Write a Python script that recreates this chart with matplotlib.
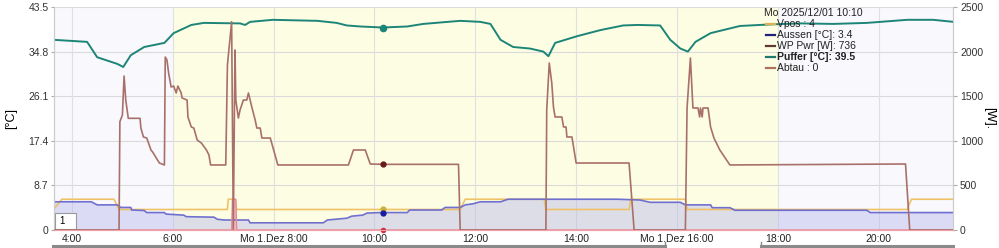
import matplotlib
matplotlib.use('Agg')
import matplotlib.pyplot as plt
from matplotlib.lines import Line2D
from matplotlib.patches import Rectangle

plt.rcParams['font.family'] = ['Liberation Sans', 'DejaVu Sans']


def hrs(ts):
    out = []
    for t in ts:
        h, m = t.split(':')
        out.append(int(h) + int(m) / 60.0)
    return out


# Puffer [°C] (left axis)
puffer_t = ['3:38', '4:18', '4:30', '4:54', '5:01', '5:10', '5:26', '5:50', '6:01', '6:22',
            '6:37', '7:20', '7:26', '7:32', '7:59', '8:52', '9:15', '9:27', '9:43', '10:10',
            '10:39', '10:58', '11:42', '12:06', '12:18', '12:30', '12:45', '13:05', '13:21', '13:27',
            '13:35', '13:49', '14:01', '14:29', '14:56', '15:13', '15:40', '15:52', '16:04', '16:13',
            '16:22', '16:40', '17:15', '17:51', '18:27', '19:06', '19:46', '20:02', '20:34', '21:05',
            '21:29']
puffer_v = [37.1, 36.7, 33.7, 32.4, 31.8, 34.1, 35.7, 36.5, 38.4, 40.0,
            40.4, 40.3, 40.0, 40.6, 41.0, 40.8, 40.4, 39.9, 39.7, 39.5,
            39.7, 40.2, 40.8, 40.6, 40.2, 37.1, 35.7, 35.4, 34.8, 33.9,
            36.5, 37.2, 37.8, 39.0, 39.9, 40.0, 39.9, 37.1, 35.4, 34.8,
            36.7, 38.4, 39.8, 40.1, 40.3, 40.2, 40.4, 40.6, 41.0, 41.0,
            40.6]

# WP Pwr [W] (right axis)
wp_t = ['3:38', '4:56', '4:57', '5:00', '5:02', '5:04', '5:07', '5:21', '5:22', '5:25',
        '5:29', '5:34', '5:36', '5:44', '5:50', '5:51', '5:53', '5:55', '5:58', '6:01',
        '6:04', '6:06', '6:10', '6:11', '6:17', '6:18', '6:22', '6:25', '6:29', '6:34',
        '6:40', '6:43', '6:45', '7:03', '7:05', '7:10', '7:12', '7:14', '7:15', '7:18',
        '7:20', '7:24', '7:28', '7:30', '7:34', '7:38', '7:40', '7:44', '7:46', '7:56',
        '8:05', '9:29', '9:35', '9:49', '9:55', '10:10', '11:40', '11:42', '13:24', '13:25',
        '13:28', '13:31', '13:33', '13:35', '13:43', '13:45', '13:48', '13:49', '13:55', '14:00',
        '15:03', '15:09', '16:10', '16:12', '16:16', '16:19', '16:25', '16:27', '16:28', '16:30',
        '16:31', '16:37', '16:40', '16:44', '16:51', '17:03', '20:32', '20:37', '21:29']
wp_v = [0, 0, 1214, 1289, 1726, 1457, 1252, 1252, 1143, 1043,
        1031, 897, 874, 751, 729, 1939, 1906, 1760, 1603, 1614,
        1536, 1614, 1536, 1480, 1457, 1267, 1155, 1143, 1009, 975,
        897, 841, 729, 729, 1850, 2335, 0, 2018, 1457, 1255,
        1345, 1457, 1457, 1536, 1379, 1233, 1143, 1143, 1031, 1031,
        729, 729, 897, 897, 740, 736, 736, 0, 0, 1345,
        1872, 1648, 1379, 1267, 1267, 1155, 1155, 1043, 1043, 751,
        751, 0, 0, 1368, 1928, 1368, 1368, 1267, 1368, 1267,
        1368, 1368, 1155, 1031, 897, 729, 740, 0, 0]

# Vpos (left axis)
vpos_t = ['3:38', '3:48', '4:50', '4:56', '7:05', '7:06', '7:14', '7:16', '11:42', '11:48',
          '13:22', '13:24', '15:03', '15:05', '16:10', '16:12', '20:34', '20:39', '21:29']
vpos_v = [4, 6, 6, 4, 4, 6, 6, 4, 4, 6,
          6, 4, 4, 6, 6, 4, 4, 6, 6]

# Aussen [°C] (left axis)
aussen_t = ['3:38', '4:23', '4:30', '4:54', '4:58', '5:10', '5:11', '5:26', '5:29', '5:50',
            '5:52', '6:13', '6:16', '6:49', '6:53', '7:01', '7:30', '7:32', '8:59', '9:04',
            '9:27', '9:33', '9:46', '9:51', '10:07', '10:39', '10:42', '11:20', '11:24', '11:42',
            '11:48', '11:57', '12:06', '12:30', '12:39', '14:49', '15:16', '15:28', '16:04', '16:10',
            '16:40', '16:42', '17:03', '17:09', '19:46', '19:50', '21:29']
aussen_v = [5.5, 5.5, 4.9, 4.9, 4.4, 4.4, 3.9, 3.8, 3.4, 3.4,
            3.1, 2.9, 2.6, 2.5, 2.1, 1.95, 1.95, 1.4, 1.4, 1.95,
            2.3, 2.7, 2.9, 3.3, 3.4, 3.4, 3.9, 3.9, 4.4, 4.4,
            4.9, 5.1, 5.5, 5.5, 6.0, 6.0, 5.85, 5.4, 5.4, 4.9,
            4.9, 4.35, 4.35, 3.85, 3.85, 3.4, 3.4]

# Abtau
abtau_t = ['3:38', '7:10', '7:11', '7:15', '7:16', '21:29']
abtau_v = [0, 0, 6, 6, 0, 0]

cursor_t = '10:10'
cursor_vals = {'Vpos': 4, 'Aussen': 3.4, 'WP': 736, 'Puffer': 39.5, 'Abtau': 0}

xtick_h = [4, 6, 8, 10, 12, 14, 16, 18, 20]
xtick_labels = ['4:00', '6:00', 'Mo 1.Dez 8:00', '10:00', '12:00', '14:00',
                'Mo 1.Dez 16:00', '18:00', '20:00']
ytick_left = [0, 8.7, 17.4, 26.1, 34.8, 43.5]
ytick_left_labels = ['0', '8.7', '17.4', '26.1', '34.8', '43.5']
ytick_right = [0, 500, 1000, 1500, 2000, 2500]

c_puffer = '#1d8577'
c_wp = '#a8706a'
c_vpos = '#f0c266'
c_aussen = '#6f6fcf'
c_abtau = '#e88a96'

fig = plt.figure(figsize=(9.99, 2.48), dpi=100)
fig.patch.set_facecolor('#ffffff')
ax = fig.add_axes([54 / 999, 18 / 248, 899 / 999, 223 / 248])
ax.set_facecolor('#f8f8fd')
ax2 = ax.twinx()

x0, x1 = 3 + 38.6 / 60, 21 + 28.5 / 60
ax.set_xlim(x0, x1)
ax.set_ylim(0, 43.5)
ax2.set_ylim(0, 2500)

ax.axvspan(6, 18, color='#fdfde4', zorder=0, lw=0)
for y in ytick_left:
    ax.axhline(y, color='#dadada', lw=0.8, zorder=0.5)
for x in xtick_h:
    ax.axvline(x, color='#e0e0e0', lw=0.8, zorder=0.5)

at = hrs(aussen_t)
ax.fill_between(at, aussen_v, 0, color='#b8b8ee', alpha=0.45, lw=0, zorder=1)
ax.plot(hrs(vpos_t), vpos_v, color=c_vpos, lw=1.2, zorder=2)
ax.plot(at, aussen_v, color=c_aussen, lw=1.2, zorder=3)
ab = hrs(abtau_t)
ax.fill_between(ab, abtau_v, 0, color='#f6b8c0', lw=0, zorder=2)
ax.plot(ab, abtau_v, color=c_abtau, lw=1.0, zorder=3)
ax.plot(hrs(puffer_t), puffer_v, color=c_puffer, lw=1.4, zorder=4)
ax2.plot(hrs(wp_t), wp_v, color=c_wp, lw=1.2, zorder=4)

ct = hrs([cursor_t])[0]
ax.plot(ct, cursor_vals['Puffer'], 'o', color=c_puffer, ms=4.5, zorder=6)
ax.plot(ct, cursor_vals['Vpos'], 'o', color='#c8b040', ms=3.5, zorder=6)
ax.plot(ct, cursor_vals['Aussen'], 'o', color='#1a1aa0', ms=3.5, zorder=6)
ax.plot(ct, cursor_vals['Abtau'], 'o', color='#d03040', ms=3, zorder=6, clip_on=False)
ax2.plot(ct, cursor_vals['WP'], 'o', color='#6a1a1a', ms=3.5, zorder=6)

ax.set_xticks(xtick_h)
ax.set_xticklabels(xtick_labels, fontsize=7.5, color='#222222')
ax.set_yticks(ytick_left)
ax.set_yticklabels(ytick_left_labels, fontsize=7.5, color='#333333')
ax2.set_yticks(ytick_right)
ax2.set_yticklabels([str(v) for v in ytick_right], fontsize=7.5, color='#333333')
ax.tick_params(axis='x', length=0, pad=3)
ax.tick_params(axis='y', length=2, color='#aaaaaa', pad=2)
ax2.tick_params(axis='y', length=3, color='#aaaaaa', pad=2)
for a in (ax, ax2):
    a.spines['top'].set_visible(False)
    a.spines['left'].set_color('#cccccc')
    a.spines['right'].set_color('#cccccc')
    a.spines['bottom'].set_color('#f0a0a8')
ax.set_ylabel('[°C]', fontsize=9, labelpad=8)
ax2.set_ylabel('[W].', fontsize=9, rotation=270, labelpad=9)

# legend block at cursor
lx, ly = 0.7895, 0.975
ax.text(lx, ly, 'Mo 2025/12/01 10:10', transform=ax.transAxes, fontsize=7.5,
        va='center', ha='left', color='#222222', zorder=7)
rows = [('Vpos : 4', '#e0b050', 'normal'),
        ('Aussen [°C]: 3.4', '#202080', 'normal'),
        ('WP Pwr [W]: 736', '#603830', 'normal'),
        ('Puffer [°C]: 39.5', '#207870', 'bold'),
        ('Abtau : 0', '#b07060', 'normal')]
for i, (txt, col, wt) in enumerate(rows):
    yy = ly - (i + 1) * 0.05
    ax.plot([lx + 0.002, lx + 0.012], [yy, yy], transform=ax.transAxes, color=col,
            lw=1.6, zorder=7)
    ax.text(lx + 0.0145, yy, txt, transform=ax.transAxes, fontsize=7.5, va='center',
            ha='left', color='#222222', fontweight=wt, zorder=7)

# small input box
ax.add_patch(Rectangle((0.001, 0.005), 0.024, 0.072, transform=ax.transAxes,
                       facecolor='white', edgecolor='#999999', lw=0.8, zorder=8))
ax.text(0.006, 0.041, '1', transform=ax.transAxes, fontsize=7, va='center', zorder=9)

# range bars below the axis
for xa, xb in [(53, 665), (761, 953)]:
    fig.add_artist(Line2D([xa / 999, xb / 999], [2 / 248, 2 / 248], color='#8a8a8a', lw=2.2))
for xe in (665, 761):
    fig.add_artist(Line2D([xe / 999, xe / 999], [1 / 248, 6 / 248], color='#8a8a8a', lw=1))

plt.savefig('out.png', dpi=100)
